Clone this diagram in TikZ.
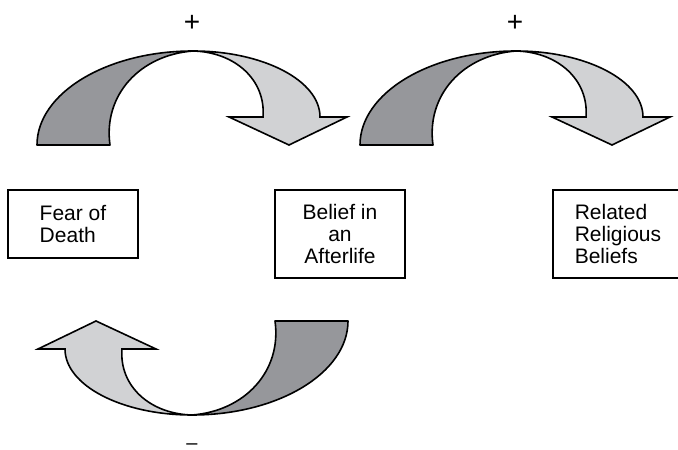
\documentclass[tikz,border=0pt]{standalone}
\usepackage{fontspec}
\setmainfont{Liberation Sans}
\usetikzlibrary{shapes,arrows}
\definecolor{backgray}{RGB}{150,151,155}
\definecolor{frontgray}{RGB}{209,210,212}
\tikzstyle{block} = [rectangle, draw, line width=2pt, minimum width=130pt,
    inner sep=0pt, font=\fontsize{21}{22}\selectfont]
\tikzstyle{back} = [draw, fill=backgray, line width=1.6pt, line join=round]
\tikzstyle{front} = [draw, fill=frontgray, line width=1.6pt]
\tikzstyle{sign} = [inner sep=0pt, anchor=base]
\newcommand{\loopshape}{%
  \path[back] (-156,-94) arc[start angle=180, end angle=90, x radius=156pt, y radius=94pt]
     .. controls (-53,-4) and (-90,-44) .. (-83,-94) -- cycle;
  \path[front] (0,0) arc[start angle=90, end angle=0, x radius=127pt, y radius=66pt]
     -- (154,-66) -- (96,-94) -- (36,-66) -- (70,-66)
     .. controls (73,-29) and (42,-1) .. (0,0) -- cycle;}

\begin{document}
\begin{tikzpicture}[x=1pt, y=1pt]
\useasboundingbox (0,0) rectangle (678,450);
    % Place nodes
\node[block, align=left, minimum height=68pt] (fear) at (73,226) {Fear of\\Death};
\node[block, align=center, minimum height=88pt] (belief) at (340,216) {Belief in\\an\\Afterlife};
\node[block, align=left, minimum height=88pt] (related) at (618,216) {Related\\Religious\\Beliefs};
\coordinate (topA) at (193,399);
\coordinate (topB) at (516,399);
\coordinate (bottomA) at (192,35);

    % Draw loops
\begin{scope}[shift={(topA)}] \loopshape \end{scope}
\begin{scope}[shift={(topB)}] \loopshape \end{scope}
\begin{scope}[shift={(bottomA)}, rotate=180] \loopshape \end{scope}

    % Signs
\node[sign, font=\fontsize{28}{28}\selectfont] (plusA) at (192,418.5) {+};
\node[sign, font=\fontsize{28}{28}\selectfont] (plusB) at (515,418.5) {+};
\node[sign, font=\fontsize{20}{20}\selectfont] (minusA) at (192,0.5) {–};

\end{tikzpicture}
\end{document}
